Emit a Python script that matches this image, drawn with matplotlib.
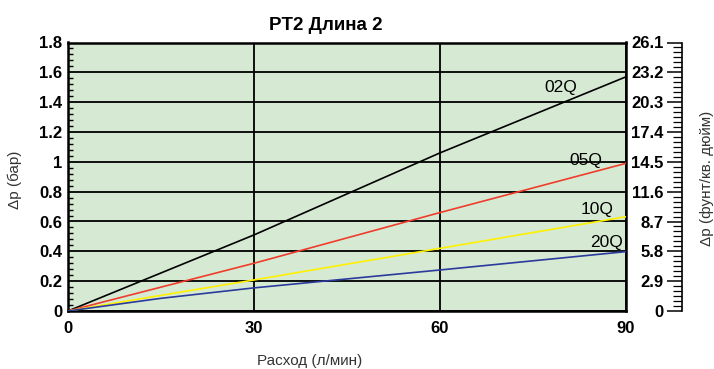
import matplotlib
matplotlib.use("Agg")
import matplotlib.pyplot as plt
from matplotlib.ticker import MultipleLocator, AutoMinorLocator, FixedLocator

plt.rcParams['font.family'] = ['Liberation Sans', 'DejaVu Sans']

# Data (flow l/min vs pressure drop bar)
flow = [0, 15, 30, 60, 90]
dp_02q = [0, 0.255, 0.51, 1.06, 1.57]
dp_05q = [0, 0.16, 0.32, 0.66, 0.99]
dp_10q = [0, 0.105, 0.208, 0.42, 0.632]
dp_20q = [0, 0.085, 0.155, 0.275, 0.398]

series_names = ["02Q", "05Q", "10Q", "20Q"]
series_colors = ["#000000", "#f03c2c", "#fff000", "#2b3a9c"]
label_pos = [(79.5, 1.50), (83.5, 1.007), (85.3, 0.68), (86.8, 0.46)]

psi_ticks = [0, 2.9, 5.8, 8.7, 11.6, 14.5, 17.4, 20.3, 23.2, 26.1]
psi_labels = ["0", "2.9", "5.8", "8.7", "11.6", "14.5", "17.4", "20.3", "23.2", "26.1"]

W, H = 714, 369
fig = plt.figure(figsize=(W / 100, H / 100), dpi=100)

left, right, top, bottom = 68, 626, 42.5, 311
ax = fig.add_axes([left / W, 1 - bottom / H, (right - left) / W, (bottom - top) / H])
ax.set_facecolor("#d6ead3")

for y, name, color in zip([dp_02q, dp_05q, dp_10q, dp_20q], series_names, series_colors):
    ax.plot(flow, y, color=color, lw=1.2, zorder=3)
for name, (lx, ly) in zip(series_names, label_pos):
    ax.text(lx, ly, name, fontsize=12.5, ha="center", va="center", zorder=4)

ax.set_xlim(0, 90)
ax.set_ylim(0, 1.8)
ax.xaxis.set_major_locator(MultipleLocator(30))
ax.yaxis.set_major_locator(MultipleLocator(0.2))
ax.yaxis.set_minor_locator(AutoMinorLocator(5))
ax.yaxis.set_major_formatter(plt.FuncFormatter(lambda v, p: ("%g" % round(v, 1))))
ax.grid(True, which="major", color="black", lw=1.3)
ax.set_axisbelow(True)
ax.tick_params(axis="both", which="major", length=0, labelsize=12)
ax.tick_params(axis="x", pad=7)
ax.tick_params(axis="y", pad=4)
ax.tick_params(axis="y", which="minor", direction="in", length=3.5, width=1)
for lab in ax.get_xticklabels() + ax.get_yticklabels():
    lab.set_fontweight("bold")
for s in ax.spines.values():
    s.set_linewidth(1.8)

# pressure ruler in psi
rx = 681.7
rax = fig.add_axes([rx / W, 1 - bottom / H, 0.001, (bottom - top) / H])
rax.patch.set_visible(False)
for k in ["top", "right", "bottom"]:
    rax.spines[k].set_visible(False)
rax.spines["left"].set_linewidth(1.2)
rax.set_xticks([])
rax.set_ylim(0, 26.1)
rax.yaxis.set_major_locator(FixedLocator(psi_ticks))
rax.yaxis.set_minor_locator(AutoMinorLocator(6))
rax.set_yticklabels(psi_labels, fontweight="bold", fontsize=12)
rax.tick_params(axis="y", which="major", length=11, width=1.1, pad=2)
rax.tick_params(axis="y", which="minor", length=6.5, width=0.9)

fig.text(326 / W, 1 - 25 / H, "PT2 Длина 2", fontsize=13.5, fontweight="bold", ha="center", va="center")
fig.text(15 / W, 1 - 180 / H, "Δp (бар)", fontsize=11, color="#333333", rotation=90, ha="center", va="center")
fig.text(707 / W, 1 - 178 / H, "Δp (фунт/кв. дюйм)", fontsize=11, color="#333333", rotation=90, ha="center", va="center")
fig.text(310 / W, 1 - 361 / H, "Расход (л/мин)", fontsize=11, color="#333333", ha="center", va="center")

fig.savefig("out.png", dpi=100)
